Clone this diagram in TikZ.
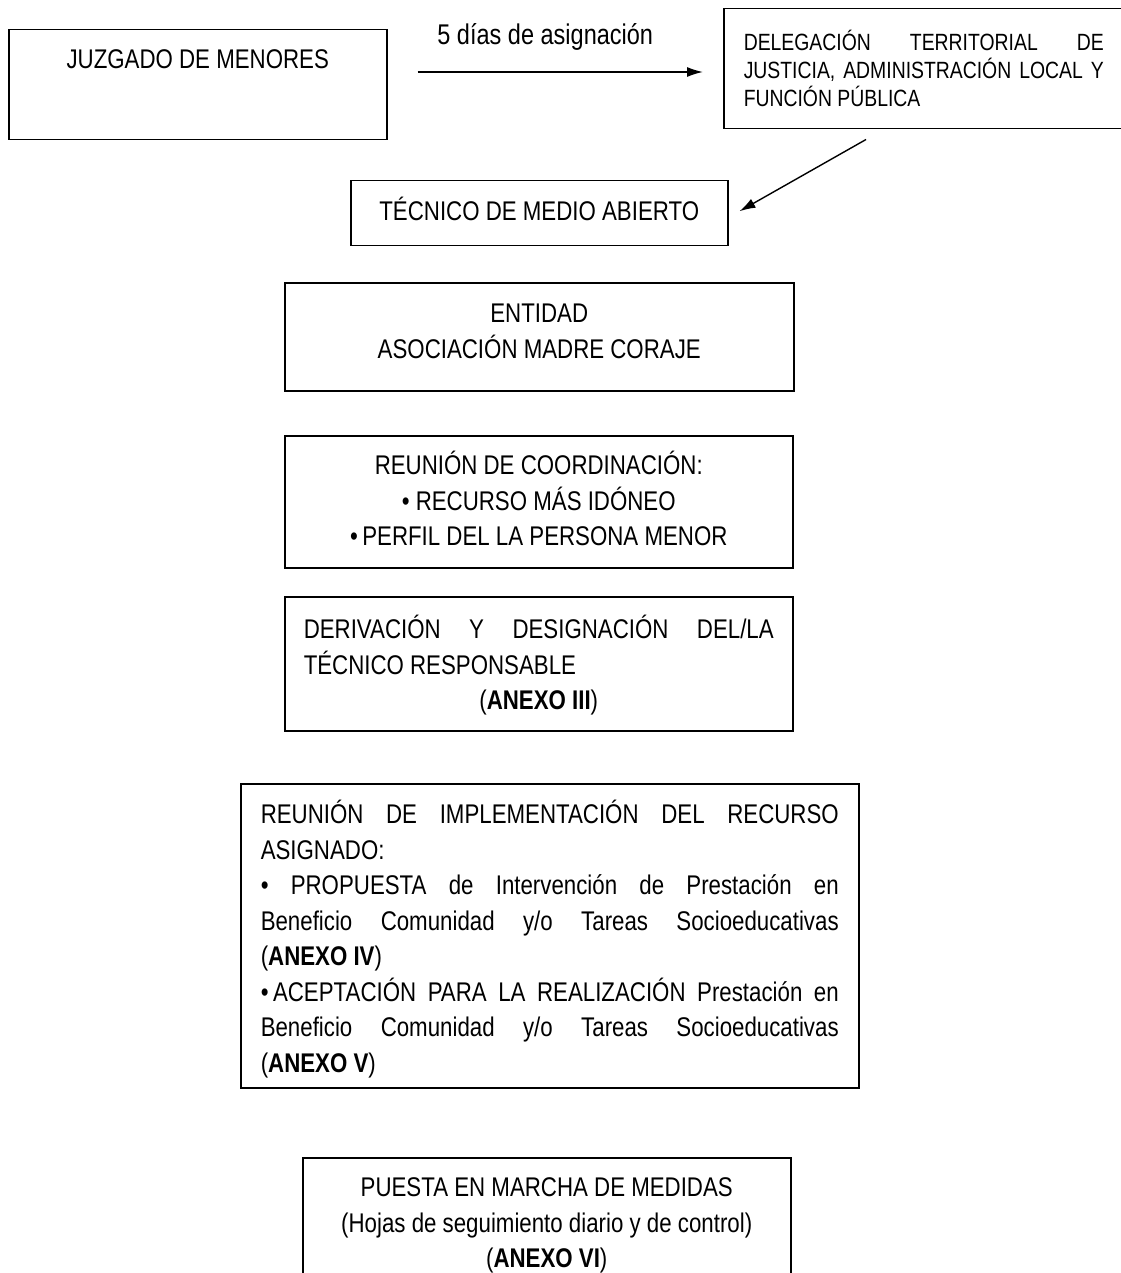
\documentclass[tikz,border=0pt]{standalone}
\usepackage{fontspec}
\setmainfont{Liberation Sans}[FakeStretch=0.825]
\usetikzlibrary{arrows.meta,calc}
\newcommand\ns{\spaceskip=\fontdimen2\font\xspaceskip=\fontdimen2\font\relax}
\newcommand\jline[1]{{\spaceskip=0pt\xspaceskip=0pt\relax\makebox[\linewidth][s]{#1}}}
\newcommand\jlinew[1]{{\spaceskip=0pt\xspaceskip=0pt\relax\makebox[360pt][s]{#1}}}
\begin{document}
\begin{tikzpicture}[x=1pt,y=-1pt,
  box/.style={draw, line width=1.5pt, inner xsep=0pt, inner ysep=0pt,
    anchor=north west, font=\fontsize{27}{35.5}\selectfont},
  arr/.style={line width=1.4pt, -{Latex[length=16pt,width=10pt]}}]
\useasboundingbox (0,0) rectangle (1120,1273);

\node[box, minimum width=378pt, text height=39pt, text depth=71pt] (juz) at (8,29)
  {JUZGADO DE MENORES};

\node[box, text width=410pt, align=left, font=\fontsize{23.5}{28}\selectfont,
  text height=42pt, text depth=78pt] (del) at (723,8)
  {\ns\hspace*{20pt}\jlinew{DELEGACIÓN TERRITORIAL DE}\\
   \hspace*{20pt}\jlinew{JUSTICIA, ADMINISTRACIÓN LOCAL Y}\\
   \hspace*{20pt}FUNCIÓN PÚBLICA};

\node[box, minimum width=377pt, text height=40pt, text depth=25pt] (tec) at (350,180)
  {TÉCNICO DE MEDIO ABIERTO};

\node[box, minimum width=509pt, text width=509pt, align=center,
  text height=40pt, text depth=68pt] (ent) at (284,282)
  {\ns ENTIDAD\\ ASOCIACIÓN MADRE CORAJE};

\node[box, minimum width=508pt, text width=508pt, align=center,
  text height=39pt, text depth=93pt] (reu) at (284,435)
  {\ns REUNIÓN DE COORDINACIÓN:\\ • RECURSO MÁS IDÓNEO\\ •\,PERFIL DEL LA PERSONA MENOR};

\node[box, minimum width=508pt, text width=470pt, align=left,
  text height=42pt, text depth=92pt] (der) at (284,596)
  {\ns\jline{DERIVACIÓN Y DESIGNACIÓN DEL/LA}\\
   TÉCNICO RESPONSABLE\\
   \makebox[\linewidth][c]{(\textbf{ANEXO III})}};

\node[box, minimum width=618pt, text width=578pt, align=left,
  text height=40pt, text depth=264pt] (imp) at (240,783)
  {\ns\jline{REUNIÓN DE IMPLEMENTACIÓN DEL RECURSO}\\
   ASIGNADO:\\
   \jline{• PROPUESTA de Intervención de Prestación en}\\
   \jline{Beneficio Comunidad y/o Tareas Socioeducativas}\\
   (\textbf{ANEXO IV})\\
   \jline{•\,ACEPTACIÓN PARA LA REALIZACIÓN Prestación en}\\
   \jline{Beneficio Comunidad y/o Tareas Socioeducativas}\\
   (\textbf{ANEXO V})};

\node[box, minimum width=488pt, text width=488pt, align=center,
  text height=39pt, text depth=103pt] (pue) at (302,1157)
  {\ns PUESTA EN MARCHA DE MEDIDAS\\
   (Hojas de seguimiento diario y de control)\\
   (\textbf{ANEXO VI})};

\draw[arr] ($(juz.north east)+(30,43)$) -- ($(del.north west)+(-20,64)$)
  node[midway, anchor=base, yshift=27pt, xshift=-15pt, font=\fontsize{28.5}{30}\selectfont] (lab) {5 días de asignación};

\draw[arr] ($(del.south west)+(143,10)$) -- ($(tec.east)+(11,-2)$);
\end{tikzpicture}
\end{document}
